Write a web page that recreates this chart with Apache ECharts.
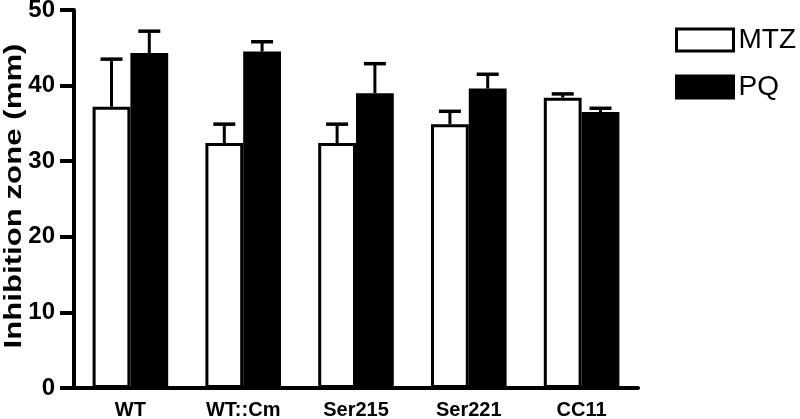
<!DOCTYPE html>
<html>
<head>
<meta charset="utf-8">
<script src="https://cdn.jsdelivr.net/npm/echarts@6/dist/echarts.min.js"></script>
<style>html,body{margin:0;padding:0;background:#fff}#c{width:800px;height:419px}</style>
</head>
<body>
<div id="c"></div>
<script>
var categories = ['WT', 'WT::Cm', 'Ser215', 'Ser221', 'CC11'];
var mtz = [37.2, 32.4, 32.4, 34.9, 38.4];
var mtzSd = [6.3, 2.5, 2.5, 1.7, 0.5];
var pq = [44.3, 44.5, 39.0, 39.6, 36.5];
var pqSd = [2.9, 1.3, 3.9, 1.9, 0.5];
var yTicks = [0, 10, 20, 30, 40, 50];
var yTitle = 'Inhibition zone (mm)';

var FONT = 'Liberation Sans, Arial, sans-serif';
var GAP = 0.33;

function errSeries(name, means, sds, side) {
  return {
    type: 'custom',
    name: name + ' err',
    z: 1,
    data: means.map(function (m, i) { return [i, m, m + sds[i]]; }),
    renderItem: function (params, api) {
      var band = api.size([1, 0])[0];
      var bw = band * (1 - GAP) / 2;
      var base = api.coord([api.value(0), api.value(1)]);
      var top = api.coord([api.value(0), api.value(2)]);
      var x = base[0] + side * bw / 2;
      var cap = 11;
      return {
        type: 'group',
        children: [
          { type: 'line', shape: { x1: x, y1: base[1], x2: x, y2: top[1] }, style: { stroke: '#000', lineWidth: 3 } },
          { type: 'line', shape: { x1: x - cap, y1: top[1], x2: x + cap, y2: top[1] }, style: { stroke: '#000', lineWidth: 3.5 } }
        ]
      };
    }
  };
}

var chart = echarts.init(document.getElementById('c'));
chart.setOption({
  animation: false,
  textStyle: { fontFamily: FONT },
  grid: { left: 74, right: 162, top: 10, bottom: 31, outerBoundsMode: 'none', containLabel: false },
  graphic: [{
    type: 'text',
    x: 14, y: 196,
    rotation: Math.PI / 2,
    scaleX: 1.3,
    style: {
      text: yTitle,
      font: 'bold 24px ' + FONT,
      fill: '#000',
      textAlign: 'center',
      textVerticalAlign: 'middle'
    }
  }],
  legend: {
    orient: 'vertical',
    left: 675, top: 26,
    padding: 0,
    icon: 'rect',
    itemWidth: 57, itemHeight: 22,
    itemGap: 19,
    textStyle: { fontSize: 28, color: '#000', fontFamily: FONT, lineHeight: 23 },
    data: [
      { name: 'MTZ', itemStyle: { color: '#fff', borderColor: '#000', borderWidth: 3 } },
      { name: 'PQ', itemStyle: { color: '#000', borderColor: '#000', borderWidth: 3 } }
    ]
  },
  xAxis: {
    type: 'category',
    data: categories,
    axisLine: { lineStyle: { color: '#000', width: 4 } },
    axisTick: { alignWithLabel: true, length: 8, lineStyle: { color: '#000', width: 4 } },
    axisLabel: { color: '#000', fontWeight: 'bold', fontSize: 20, margin: 12, fontFamily: FONT }
  },
  yAxis: {
    type: 'value',
    min: yTicks[0], max: yTicks[yTicks.length - 1], interval: 10,
    splitLine: { show: false },
    axisLine: { show: true, lineStyle: { color: '#000', width: 4 } },
    axisTick: { show: true, length: 14, lineStyle: { color: '#000', width: 4 } },
    axisLabel: { color: '#000', fontWeight: 'bold', fontSize: 24, margin: 19, fontFamily: FONT }
  },
  series: [
    errSeries('MTZ', mtz, mtzSd, -1),
    errSeries('PQ', pq, pqSd, 1),
    {
      name: 'MTZ', type: 'bar', data: mtz, z: 2,
      barGap: '0%', barCategoryGap: '33%',
      itemStyle: { color: '#fff', borderColor: '#000', borderWidth: 3 }
    },
    {
      name: 'PQ', type: 'bar', data: pq, z: 2,
      itemStyle: { color: '#000', borderColor: '#000', borderWidth: 3 }
    }
  ]
});
</script>
</body>
</html>
